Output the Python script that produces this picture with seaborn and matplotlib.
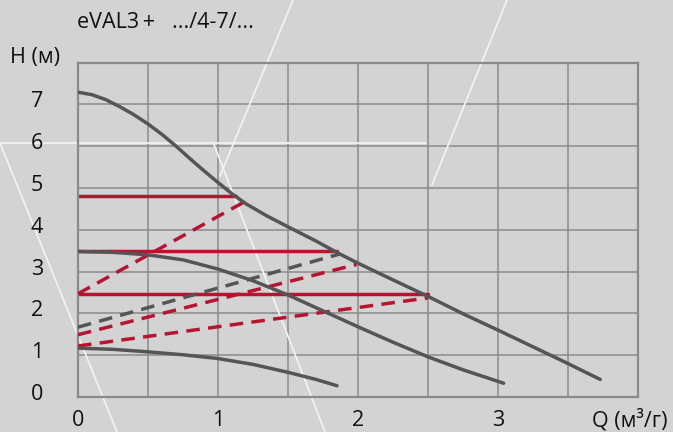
import matplotlib.pyplot as plt
import matplotlib.transforms as mtransforms
import seaborn as sns

# pump curves eVAL3+ .../4-7/...  (Q in m3/h, H in m)
q_max = [0, 0.10, 0.20, 0.30, 0.40, 0.50, 0.60, 0.70, 0.80, 0.90, 1.00, 1.10, 1.20, 1.35, 1.50,
         1.70, 1.87, 2.00, 2.20, 2.51, 2.75, 3.00, 3.25, 3.50, 3.73]
h_max = [7.29, 7.23, 7.11, 6.94, 6.75, 6.53, 6.28, 6.00, 5.70, 5.41, 5.13, 4.86, 4.62, 4.33, 4.07,
         3.73, 3.42, 3.20, 2.88, 2.39, 1.99, 1.60, 1.20, 0.80, 0.42]

q_mid = [0, 0.25, 0.50, 0.75, 1.00, 1.25, 1.50, 1.75, 2.00, 2.25, 2.50, 2.75, 3.04]
h_mid = [3.48, 3.46, 3.40, 3.28, 3.06, 2.78, 2.44, 2.06, 1.68, 1.31, 0.96, 0.65, 0.33]

q_low = [0, 0.25, 0.50, 0.75, 1.00, 1.25, 1.50, 1.70, 1.85]
h_low = [1.17, 1.14, 1.08, 1.01, 0.92, 0.78, 0.59, 0.42, 0.27]

# constant pressure settings (red solid)
cp_h = [4.81, 3.50, 2.46]
cp_qend = [1.13, 1.85, 2.50]

# proportional pressure settings (dashed): head at Q=0, end point
pp_h0 = [2.47, 1.67, 1.49, 1.22]
pp_q1 = [1.19, 1.87, 1.99, 2.50]
pp_h1 = [4.67, 3.42, 3.17, 2.37]
pp_red = [True, False, True, True]

x_ticks = [0, 1, 2, 3]
y_ticks = [0, 1, 2, 3, 4, 5, 6, 7]

bg = '#d3d3d3'
grey = '#555555'
red = '#b5152f'
gridc = '#8a8a8a'
txt = '#111111'

sns.set_theme(style="ticks", rc={
    'axes.facecolor': bg,
    'figure.facecolor': bg,
    'axes.edgecolor': gridc,
    'axes.linewidth': 1.6,
    'grid.color': gridc,
    'grid.linewidth': 1.1,
})
plt.rcParams['font.family'] = ['Open Sans', 'DejaVu Sans']

W, H = 673, 432
fig = plt.figure(figsize=(W / 100, H / 100), dpi=100)
ax = fig.add_axes([78 / W, 35 / H, 560 / W, 334.5 / H])

# white decorative strokes in the background (pixel coords of the picture)
deco = [((0, 143), (117, 432)), ((0, 142.5), (426, 142.5)), ((213, 142), (325, 432)),
        ((293, 0), (220, 176)), ((507, 0), (432, 185))]
for (x0, y0), (x1, y1) in deco:
    ax.plot([x0 / W, x1 / W], [1 - y0 / H, 1 - y1 / H], color='#f2f2f2', lw=1.3,
            transform=fig.transFigure, clip_on=False, zorder=1)

lw = 2.5
for q, h in [(q_max, h_max), (q_mid, h_mid), (q_low, h_low)]:
    sns.lineplot(x=q, y=h, ax=ax, color=grey, lw=lw, sort=False, estimator=None, zorder=3)
    ax.lines[-1].set_solid_joinstyle('round')

for h, q in zip(cp_h, cp_qend):
    sns.lineplot(x=[0, q], y=[h, h], ax=ax, color=red, lw=lw, zorder=2.5)

for h0, q1, h1, is_red in zip(pp_h0, pp_q1, pp_h1, pp_red):
    sns.lineplot(x=[0, q1], y=[h0, h1], ax=ax, color=red if is_red else grey, lw=lw, zorder=2.6)
    ax.lines[-1].set_dashes((3.9, 2.4))

ax.set_xlim(0, 4)
ax.set_ylim(0, 8)
ax.set_xticks([i * 0.5 for i in range(9)])
ax.set_yticks(list(range(9)))
ax.tick_params(length=0, labelbottom=False, labelleft=False)
ax.grid(True)
ax.set_axisbelow(True)
for s in ax.spines.values():
    s.set_visible(True)
ax.set_xlabel('')
ax.set_ylabel('')

# tick labels placed at data positions with a pixel offset
fs = 15.5
xoff = ax.transData + mtransforms.ScaledTranslation(0, -0.23, fig.dpi_scale_trans)
for t in x_ticks:
    ax.text(t, 0, str(t), transform=xoff, ha='center', va='center', fontsize=fs, color=txt, clip_on=False)
yoff = mtransforms.blended_transform_factory(ax.transAxes, ax.transData) + \
    mtransforms.ScaledTranslation(-0.41, 0.025, fig.dpi_scale_trans)
for t in y_ticks:
    ax.text(0, t, str(t), transform=yoff, ha='center', va='center', fontsize=fs, color=txt, clip_on=False)

fig.text(77 / W, 1 - 22 / H, 'eVAL3\u2009+   .../4-7/...', fontsize=fs, va='center', ha='left', color=txt)
fig.text(10 / W, 1 - 57 / H, 'H (м)', fontsize=fs, va='center', ha='left', color=txt)
fig.text(668 / W, 1 - 420 / H, 'Q (м³/г)', fontsize=fs, va='center', ha='right', color=txt)

fig.savefig('out.png', dpi=100, facecolor=bg)
